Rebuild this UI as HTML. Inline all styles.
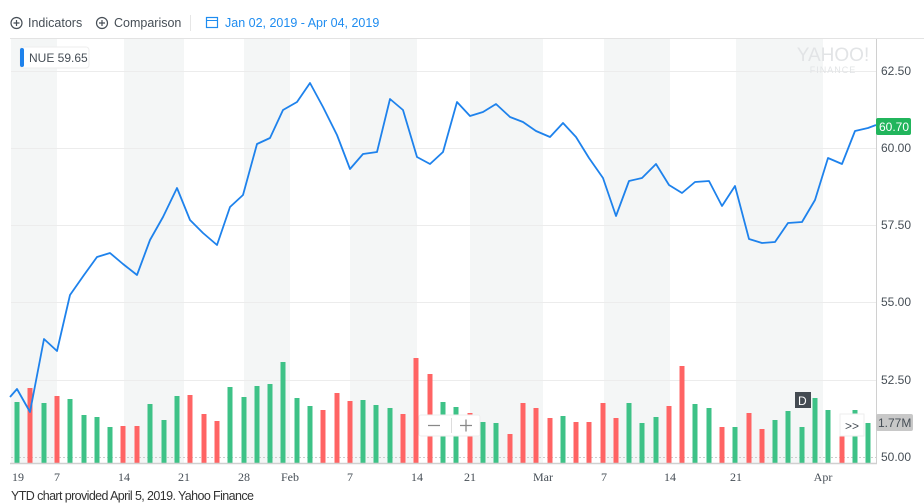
<!DOCTYPE html>
<html><head><meta charset="utf-8"><style>
body{margin:0;width:924px;height:504px;background:#fff;overflow:hidden;font-family:"Liberation Sans",sans-serif}
</style></head><body>
<svg width="924" height="504" xmlns="http://www.w3.org/2000/svg" style="position:absolute;left:0;top:0">
<g font-family="Liberation Sans, sans-serif" font-size="12.5" fill="#464e56">
<circle cx="16.5" cy="23" r="5.5" fill="none" stroke="#464e56" stroke-width="1.2"/><path d="M13.5 23h6M16.5 20v6" stroke="#464e56" stroke-width="1.2"/>
<text x="28" y="27">Indicators</text>
<circle cx="102" cy="23" r="5.5" fill="none" stroke="#464e56" stroke-width="1.2"/><path d="M99 23h6M102 20v6" stroke="#464e56" stroke-width="1.2"/>
<text x="114" y="27">Comparison</text>
<line x1="190.5" y1="15" x2="190.5" y2="31" stroke="#e6e6e6"/>
<rect x="206.5" y="17.5" width="11" height="10" fill="none" stroke="#1e8cf0" stroke-width="1.2"/><line x1="206.5" y1="20.5" x2="217.5" y2="20.5" stroke="#1e8cf0"/>
<text x="225" y="27" fill="#1e8cf0">Jan 02, 2019 - Apr 04, 2019</text>
</g>
<line x1="10" y1="38.5" x2="924" y2="38.5" stroke="#e3e3e3"/>
<g fill="#f4f6f6">
<rect x="11" y="39" width="46" height="424"/><rect x="124" y="39" width="60" height="424"/><rect x="244" y="39" width="46" height="424"/><rect x="350" y="39" width="67" height="424"/><rect x="470" y="39" width="73" height="424"/><rect x="604" y="39" width="66" height="424"/><rect x="736" y="39" width="87" height="424"/>
</g>
<g stroke="#ececec" stroke-width="1">
<line x1="11" y1="71.5" x2="876" y2="71.5"/><line x1="11" y1="148.5" x2="876" y2="148.5"/><line x1="11" y1="225.5" x2="876" y2="225.5"/><line x1="11" y1="302.5" x2="876" y2="302.5"/><line x1="11" y1="380.5" x2="876" y2="380.5"/><line x1="11" y1="457.5" x2="876" y2="457.5" stroke-dasharray="2,2" stroke="#ccc"/>
</g>
<text x="833" y="61" font-family="Liberation Sans, sans-serif" font-size="19" fill="#e2e4e6" text-anchor="middle">YAHOO!</text>
<text x="833" y="73" font-family="Liberation Sans, sans-serif" font-size="9" fill="#e2e4e6" text-anchor="middle" letter-spacing="1">FINANCE</text>
<g id="bars"></g>
<polyline fill="none" stroke="#1e82ec" stroke-width="1.8" stroke-linejoin="round" points="10,397 17,389 30,412 44,339 57,351 70,295 84,275 97,257 110,253 123,264 137,275 150,240 163,217 177,188 190,220 203,233 217,245 230,207 243,195 257,144 270,138 283,110 297,102 310,83 323,107 337,135 350,169 363,154 377,152 390,99 403,110 417,157 430,164 443,152 457,102 470,116 483,112 496,104 510,117 523,122 536,131 550,137 563,123 576,137 589,158 603,178 616,216 629,181 642,178 656,164 669,185 682,193 695,182 709,181 722,206 735,186 749,239 762,243 775,242 788,223 802,222 815,200 828,158 842,164 855,131 868,128 876,125"/>
<line x1="876.5" y1="39" x2="876.5" y2="463" stroke="#d0d0d0"/>
<line x1="10" y1="463.5" x2="877" y2="463.5" stroke="#d0d0d0" stroke-width="1.5"/>
<g font-family="Liberation Sans, sans-serif" font-size="12" fill="#464e56">
<text x="881" y="75">62.50</text><text x="881" y="152">60.00</text><text x="881" y="229">57.50</text><text x="881" y="306">55.00</text><text x="881" y="384">52.50</text><text x="881" y="461">50.00</text>
</g>
<rect x="876" y="118" width="35" height="17" rx="2" fill="#21b55c"/><text x="879" y="131" font-family="Liberation Sans, sans-serif" font-size="12" fill="#fff">60.70</text>
<rect x="876" y="414" width="37" height="17" rx="2" fill="#c8c8c8"/><text x="878" y="427" font-family="Liberation Sans, sans-serif" font-size="12" fill="#464e56">1.77M</text>
<rect x="20" y="47" width="69" height="21" rx="3" fill="#fff" stroke="#eee"/><rect x="20" y="48" width="4" height="19" rx="2" fill="#1e82ec"/>
<text x="29" y="62" font-family="Liberation Sans, sans-serif" font-size="12" fill="#464e56">NUE  59.65</text>
<rect x="419" y="415" width="61" height="21" rx="2" fill="#fff" stroke="#eee"/><path d="M428 425.5h12M460 425.5h12M466 419.5v12" stroke="#888" stroke-width="1.3"/><line x1="451.5" y1="418" x2="451.5" y2="433" stroke="#ddd"/>
<rect x="840" y="414" width="24" height="22" fill="#fff" stroke="#eee"/><text x="845" y="430" font-family="Liberation Sans, sans-serif" font-size="12" fill="#464e56">&gt;&gt;</text>
<rect x="795" y="392" width="16" height="16" fill="#444b52"/><text x="798" y="405" font-family="Liberation Sans, sans-serif" font-size="12" fill="#fff">D</text>
<g font-family="Liberation Serif, serif" font-size="12" fill="#464e56" text-anchor="middle">
<text x="18" y="481">19</text><text x="57" y="481">7</text><text x="124" y="481">14</text><text x="184" y="481">21</text><text x="244" y="481">28</text><text x="290" y="481">Feb</text><text x="350" y="481">7</text><text x="417" y="481">14</text><text x="470" y="481">21</text><text x="543" y="481">Mar</text><text x="604" y="481">7</text><text x="670" y="481">14</text><text x="736" y="481">21</text><text x="823" y="481">Apr</text>
</g>
<text x="11" y="500" font-family="Liberation Sans, sans-serif" font-size="12.5" fill="#333" letter-spacing="-0.6">YTD chart provided April 5, 2019. Yahoo Finance</text>
</svg>
<script>
var d=[[17,402,1],[30,388,0],[44,403,1],[57,396,0],[70,399,1],[84,415,1],[97,417,1],[110,427,1],[123,426,0],[137,426,0],[150,404,1],[164,420,1],[177,396,1],[190,395,0],[204,414,0],[217,421,0],[230,387,1],[244,397,1],[257,386,1],[270,384,1],[283,362,1],[297,398,1],[310,406,1],[323,410,0],[337,393,0],[350,401,0],[363,400,1],[376,405,1],[390,408,1],[403,414,0],[416,358,0],[430,374,0],[443,402,1],[456,407,1],[470,413,0],[483,422,1],[496,423,1],[510,434,0],[523,403,0],[536,408,0],[550,418,0],[563,416,1],[576,422,0],[589,422,0],[603,403,0],[616,418,0],[629,403,1],[642,423,1],[656,417,1],[669,406,0],[682,366,0],[695,404,1],[709,408,1],[722,427,0],[735,427,1],[749,413,0],[762,429,0],[775,420,1],[788,411,1],[802,427,1],[815,398,1],[828,410,1],[842,435,0],[855,410,1],[868,423,1]];
var g=document.getElementById('bars'),s='';
d.forEach(function(b){s+='<rect x="'+(b[0]-2.5)+'" y="'+b[1]+'" width="5" height="'+(463-b[1])+'" fill="'+(b[2]?'#3ec287':'#ff6464')+'"/>';});
g.innerHTML=s;
</script>
</body></html>
